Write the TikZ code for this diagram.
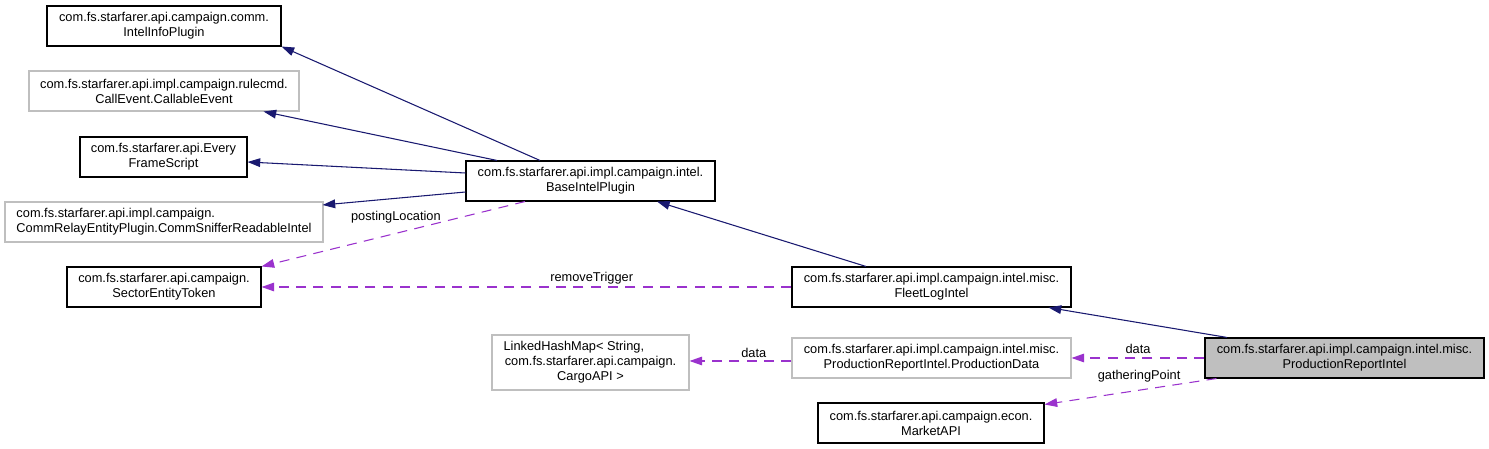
\documentclass[tikz,border=0pt]{standalone}
\usepackage{fontspec}
\setmainfont{Liberation Sans}
\usetikzlibrary{arrows.meta}
\usetikzlibrary{calc}
\definecolor{inhblue}{HTML}{191970}
\definecolor{usepurple}{HTML}{9A32CD}
\definecolor{greyfill}{HTML}{BFBFBF}
\newcommand{\pxu}{0.75pt}

\begin{document}
\begin{tikzpicture}[x=\pxu,y=\pxu,
    every node/.style={font=\fontsize{9.6}{11.25}\selectfont},
    cls/.style={draw=black,line width=0.8pt,inner sep=0pt,align=center,minimum height=40*\pxu},
    nodoc/.style={cls,draw=greyfill},
    inh/.style={draw=inhblue,line width=0.8pt,-{Triangle[length=9.5pt,width=6.5pt]}},
    usage/.style={draw=usepurple,line width=0.8pt,dash pattern=on 7.5pt off 5.5pt,-{Triangle[length=9.5pt,width=6.5pt]}},
    lbl/.style={inner sep=1pt}]
\useasboundingbox (0,0) rectangle (1489,449);
% classes on the left
\node[cls,minimum width=234*\pxu] (iip) at (164,423) {com.fs.starfarer.api.campaign.comm.\\IntelInfoPlugin};
\node[nodoc,minimum width=270*\pxu] (callable) at (164,358) {com.fs.starfarer.api.impl.campaign.rulecmd.\\CallEvent.CallableEvent};
\node[cls,minimum width=167*\pxu] (efs) at (163.5,292) {com.fs.starfarer.api.Every\\FrameScript};
\node[nodoc,minimum width=318*\pxu,align=left] (sniffer) at (164,227) {com.fs.starfarer.api.impl.campaign.\\CommRelayEntityPlugin.CommSnifferReadableIntel};
\node[cls,minimum width=194*\pxu] (setoken) at (164,162) {com.fs.starfarer.api.campaign.\\SectorEntityToken};
% middle column
\node[cls,minimum width=249*\pxu] (base) at (590.5,268) {com.fs.starfarer.api.impl.campaign.intel.\\BaseIntelPlugin};
\node[nodoc,minimum width=197*\pxu,minimum height=55*\pxu] (lhm) at (590.5,86.5) {LinkedHashMap< String,\hspace*{25pt}\\com.fs.starfarer.api.campaign.\\CargoAPI >};
% right columns
\node[cls,minimum width=279*\pxu] (fleetlog) at (931.5,162) {com.fs.starfarer.api.impl.campaign.intel.misc.\\FleetLogIntel};
\node[nodoc,minimum width=279*\pxu] (proddata) at (931.5,91) {com.fs.starfarer.api.impl.campaign.intel.misc.\\ProductionReportIntel.ProductionData};
\node[cls,minimum width=226*\pxu] (market) at (931,26) {com.fs.starfarer.api.campaign.econ.\\MarketAPI};
\node[cls,fill=greyfill,minimum width=279*\pxu] (pri) at (1344.5,91) {com.fs.starfarer.api.impl.campaign.intel.misc.\\ProductionReportIntel};
% inheritance
\draw[inh] ($(base.north)+(-50.5,0)$) -- (iip.south east);
\draw[inh] ($(base.north)+(-93.5,0)$) -- ($(callable.south east)+(-36,0)$);
\draw[inh] ($(base.west)+(0,8)$) -- ($(efs.east)+(0,-5)$);
\draw[inh] ($(base.west)+(0,-11)$) -- ($(sniffer.east)+(-1,17)$);
\draw[inh] ($(fleetlog.north)+(-65.5,0)$) -- ($(base.south)+(66.5,0)$);
\draw[inh] ($(pri.north)+(-117.5,0)$) -- ($(fleetlog.south east)+(-23,0)$);
% usage
\draw[usage] ($(base.south)+(-65.5,0)$) -- (setoken.north east) node[lbl,pos=0.49,above=6.5pt] {postingLocation};
\draw[usage] (fleetlog.west) -- (setoken.east) node[lbl,pos=0.377,above=0.5pt] {removeTrigger};
\draw[usage] (pri.west) -- (proddata.east) node[lbl,pos=0.5,above=2.25pt] {data};
\draw[usage] ($(proddata.west)+(0,-3)$) -- ($(lhm.east)+(0,1.5)$) node[lbl,pos=0.37,above=1.5pt] {data};
\draw[usage] ($(pri.south west)+(12,0)$) -- ($(market.north east)+(0,-2)$) node[lbl,pos=0.45,above=4.3pt] {gatheringPoint};
\end{tikzpicture}
\end{document}
